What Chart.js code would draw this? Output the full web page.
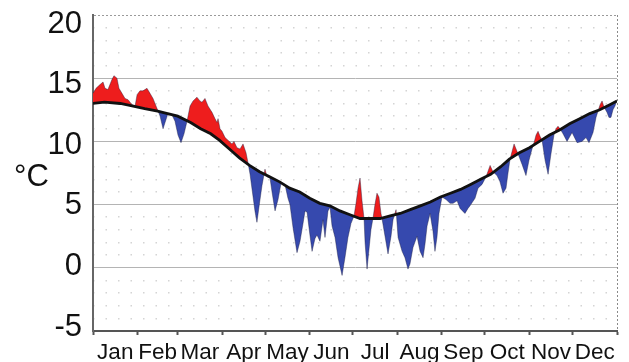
<!DOCTYPE html>
<html>
<head>
<meta charset="utf-8">
<script src="https://cdn.jsdelivr.net/npm/chart.js@4.4.1/dist/chart.umd.min.js"></script>
<style>
  html, body { margin: 0; padding: 0; background: #fff; }
</style>
</head>
<body>
<canvas id="chart" width="629" height="362"></canvas>
<script>
// month labels and month boundaries (day of year)
var monthLabels = ["Jan","Feb","Mar","Apr","May","Jun","Jul","Aug","Sep","Oct","Nov","Dec"];
var monthStarts = [0,31,59,90,120,151,181,212,243,273,304,334,365];
var yTicks = [-5,0,5,10,15,20];

// long-term mean (black line)
var climDays = [0,8,19,28,36,45,52,59,68,75,82,88,95,102,109,116,123,130,137,144,
                151,158,165,172,179,186,193,200,207,214,221,228,235,242,249,256,263,270,277,284,
                290,297,304,311,318,325,332,339,346,353,360,365];
var climTemp = [13.0,13.1,13.0,12.8,12.6,12.4,12.2,12.0,11.5,11.0,10.6,10.1,9.4,8.7,8.1,7.6,7.2,6.8,6.3,6.0,
                5.5,5.1,4.9,4.5,4.2,3.9,3.9,3.9,4.1,4.3,4.6,4.9,5.2,5.6,5.9,6.2,6.6,7.0,7.4,8.0,
                8.6,9.1,9.5,10.0,10.5,10.9,11.4,11.8,12.2,12.5,12.9,13.2];

// observed daily temperature
var obsDays = [0,2.1,4.9,7.0,8.4,10.4,13.2,14.6,16.7,18.1,20.2,22.3,24.4,27.2,29.3,30.7,32.7,34.8,37.6,39.7,
               41.8,43.9,45.3,46.7,48.8,50.2,52.2,55.0,57.1,59.2,61.3,63.4,65.5,67.6,69.7,72.4,74.5,75.9,78.0,80.1,
               82.9,85.0,86.4,87.1,88.5,89.9,92.0,94.0,96.8,98.2,100.3,102.4,104.5,106.6,108.0,109.4,110.8,112.8,114.2,115.6,
               117.7,119.8,121.2,123.3,124.7,126.8,128.9,131.0,133.7,135.8,137.2,139.3,142.1,144.2,146.3,147.7,149.1,151.2,152.6,154.6,
               156.0,158.1,160.2,161.6,163.7,165.1,166.5,168.6,170.7,173.5,175.5,177.6,179.7,181.8,183.2,184.6,186.0,187.4,188.8,189.5,
               190.9,192.3,193.6,195.0,196.4,197.8,199.2,200.6,201.3,203.4,205.5,207.6,209.0,211.1,212.5,215.3,217.3,219.4,220.8,222.9,
               225.7,227.8,229.9,231.3,232.7,234.8,236.8,238.2,239.6,241.0,243.1,245.9,248.7,250.8,253.6,255.7,259.1,261.2,262.6,266.1,
               268.2,271.0,273.8,276.6,278.6,281.4,283.5,285.6,287.7,289.1,290.5,291.9,293.3,294.7,296.1,298.8,301.6,303.7,305.8,307.2,
               308.6,310.0,311.4,312.8,314.9,317.0,319.0,321.1,322.5,323.9,325.3,327.4,330.2,333.7,337.2,340.6,343.4,345.5,348.3,350.4,
               351.8,353.2,354.6,356.0,358.0,359.4,360.8,362.2,363.6,365];
var obsTemp = [13.8,14.2,14.5,14.7,14.2,14.1,14.9,15.2,15.0,14.2,13.8,13.4,13.3,12.9,12.8,13.7,14.0,14.0,14.2,13.8,
               13.4,12.8,12.4,12.0,11.0,11.5,12.2,12.1,11.6,10.5,9.9,10.6,11.6,12.8,13.2,13.5,13.2,13.1,13.4,12.8,
               12.3,11.8,11.5,11.8,11.0,10.8,10.3,10.1,9.8,10.0,9.5,9.4,9.8,9.1,8.3,7.4,6.2,4.5,3.6,4.8,
               6.5,7.8,7.2,7.1,6.0,4.5,5.4,6.7,6.6,5.5,5.0,3.2,1.2,2.1,3.5,4.5,4.4,2.5,1.3,2.3,
               2.6,2.1,3.8,2.4,4.5,4.8,3.3,2.4,0.8,-0.6,0.8,2.4,3.5,4.1,5.1,6.3,7.1,5.3,3.9,2.0,
               -0.1,1.5,3.0,3.9,5.0,5.9,5.6,4.3,3.9,2.5,1.1,2.5,3.8,4.6,2.4,1.3,0.8,-0.1,0.3,1.6,
               2.5,1.3,0.8,1.9,3.3,4.3,2.9,1.3,2.4,4.3,5.6,5.4,5.1,5.1,5.3,4.7,4.3,4.7,4.9,5.5,
               6.3,6.6,7.2,8.1,7.6,7.3,6.8,5.9,6.3,7.5,8.6,9.2,9.8,9.4,9.0,8.2,7.3,8.5,9.4,9.9,
               10.5,10.8,10.4,10.1,8.5,7.4,9.0,10.5,11.0,11.2,11.0,10.6,10.0,10.7,9.9,10.0,10.3,9.9,10.7,11.9,
               12.4,12.9,13.2,12.7,12.3,11.9,11.9,12.5,12.8,13.3];

var FONT = "'Liberation Sans', Arial, sans-serif";

function toPoints(xs, ys){
    return xs.map(function(x, i){ return {x: x, y: ys[i]}; });
}

function monthLabelAt(v){
    for (var k = 0; k < 12; k++){
        if (Math.abs(v - (monthStarts[k] + monthStarts[k+1]) / 2) < 0.01) return monthLabels[k];
    }
    return '';
}

// "°C" unit text left of the axis
var unitLabel = {
    id: 'unitLabel',
    afterDraw: function(chart){
        var ctx = chart.ctx;
        ctx.save();
        ctx.font = '31px ' + FONT;
        ctx.fillStyle = '#111';
        ctx.textBaseline = 'alphabetic';
        ctx.fillText('°C', 14, 186);
        ctx.restore();
    }
};

var ctx = document.getElementById('chart').getContext('2d');
var chart = new Chart(ctx, {
    type: 'line',
    data: {
        datasets: [
            {
                label: 'mean',
                data: toPoints(climDays, climTemp),
                borderColor: '#111',
                borderWidth: 2.8,
                pointRadius: 0,
                tension: 0,
                fill: false
            },
            {
                label: 'daily',
                data: toPoints(obsDays, obsTemp),
                borderColor: 'rgba(25,25,60,0.5)',
                borderWidth: 0.8,
                pointRadius: 0,
                tension: 0,
                fill: {target: 0, above: '#ee1d1d', below: '#3649ae'}
            }
        ]
    },
    options: {
        responsive: false,
        animation: false,
        events: [],
        layout: {padding: {left: 0, right: 12, top: 15, bottom: 0}},
        plugins: {legend: {display: false}, tooltip: {enabled: false}},
        scales: {
            x: {
                type: 'linear', position: 'bottom', min: 0, max: 365, weight: 1,
                afterBuildTicks: function(scale){
                    var t = [];
                    for (var i = 0; i < monthStarts.length; i++){
                        t.push({value: monthStarts[i]});
                        if (i < 12) t.push({value: (monthStarts[i] + monthStarts[i+1]) / 2});
                    }
                    scale.ticks = t;
                },
                afterFit: function(scale){ scale.height = 31; scale.paddingLeft = 0; scale.paddingRight = 0; },
                ticks: {
                    autoSkip: false, maxRotation: 0, minRotation: 0, padding: 4,
                    color: '#111', font: {family: FONT, size: 22.5},
                    callback: function(v){ return monthLabelAt(v); }
                },
                grid: {
                    drawOnChartArea: false, tickLength: 4, tickWidth: 2,
                    tickColor: function(c){ return monthStarts.indexOf(c.tick.value) >= 0 ? '#555' : 'rgba(0,0,0,0)'; }
                },
                border: {color: '#555', width: 2}
            },
            xr: {
                type: 'linear', position: 'bottom', min: 0, max: 365, weight: 0,
                afterBuildTicks: function(scale){ scale.ticks = [{value: 365}]; },
                afterFit: function(scale){ scale.height = 0; },
                ticks: {display: false},
                grid: {drawTicks: false, color: '#8a8a8a', lineWidth: 1},
                border: {display: false, dash: [2, 2]}
            },
            y: {
                type: 'linear', position: 'left', min: -5, max: 20, weight: 0,
                afterFit: function(scale){ scale.width = 0; },
                ticks: {display: false, stepSize: 5},
                grid: {
                    drawTicks: false, lineWidth: 1,
                    color: function(c){ return c.tick && c.tick.value === 20 ? '#9a9a9a' : '#b4b4b4'; }
                },
                border: {
                    color: '#666', width: 2,
                    dash: function(c){ return c.tick && c.tick.value === 20 ? [2, 2] : []; }
                }
            },
            yMinor: {
                type: 'linear', position: 'left', min: -5, max: 20, weight: 0,
                afterFit: function(scale){ scale.width = 0; },
                ticks: {display: false, stepSize: 1},
                grid: {
                    drawTicks: false, lineWidth: 1.5,
                    color: function(c){ return c.tick && c.tick.value % 5 === 0 ? 'rgba(0,0,0,0)' : '#d4d4d4'; }
                },
                border: {display: false, dash: [1.5, 11]}
            },
            // tick labels sit on their own axis: they are spaced a little tighter than the grid
            yLab: {
                type: 'linear', position: 'left', min: -5.33, max: 20.74, weight: 10,
                afterBuildTicks: function(scale){
                    scale.ticks = yTicks.map(function(v){ return {value: v}; });
                },
                afterFit: function(scale){ scale.width = 93; scale.paddingTop = 0; scale.paddingBottom = 0; },
                ticks: {color: '#111', font: {family: FONT, size: 31}, padding: 11},
                grid: {display: false, drawTicks: false},
                border: {display: false}
            }
        }
    },
    plugins: [unitLabel]
});
</script>
</body>
</html>
